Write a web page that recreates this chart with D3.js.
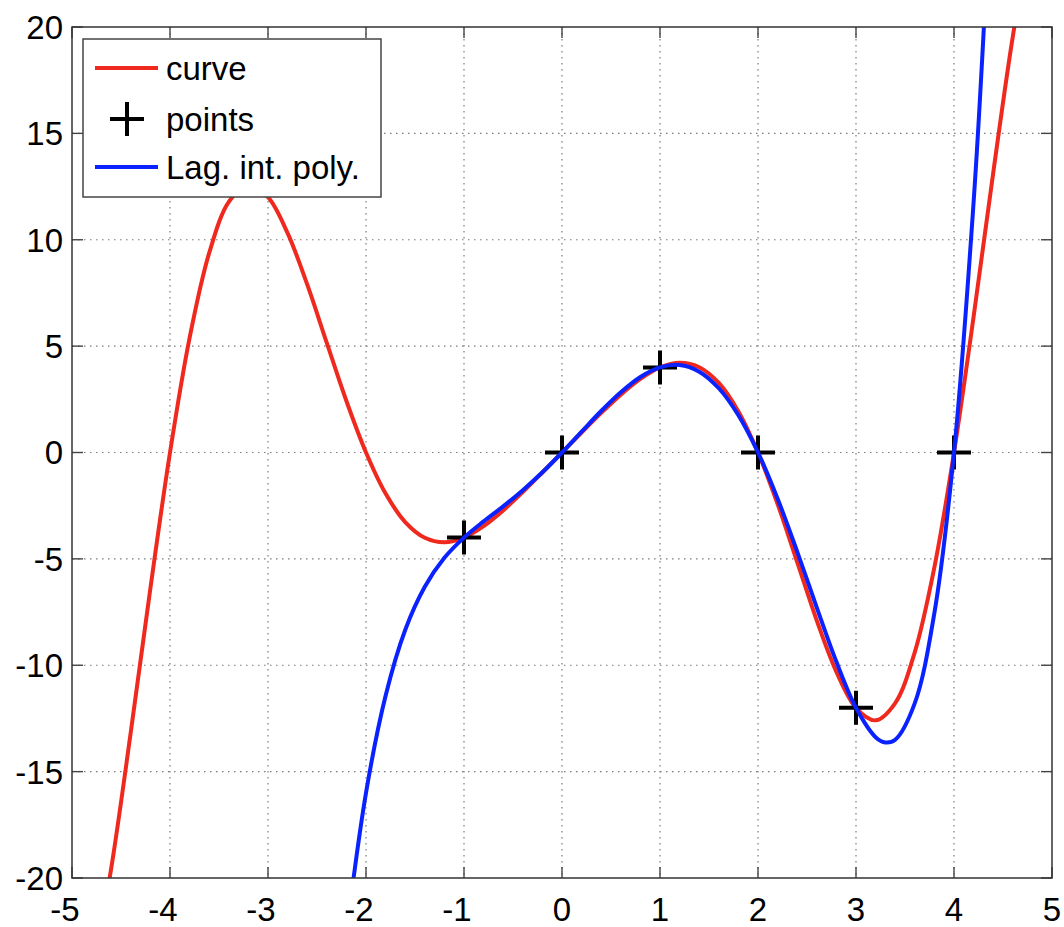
<!DOCTYPE html>
<html>
<head>
    <title>Lagrange interpolation</title>
    <script src="https://d3js.org/d3.v7.min.js"></script>
    <style>
        body { margin: 0; background: #fff; }
        text { font-family: "Liberation Sans", Arial, sans-serif; fill: #000; }
        .tick-label { font-size: 33px; }
        .legend text { font-size: 33px; }
    </style>
</head>
<body>
<svg width="1064" height="927"></svg>
<script>
    // interpolation nodes
    var pointsX = [-1, 0, 1, 2, 3, 4];
    var pointsY = [-4, 0, 4, 0, -12, 0];

    // red curve, values
    var curveX = [-4.8, -4.6, -4.4, -4.2, -4.0, -3.8, -3.6, -3.4, -3.2, -3.0, -2.8, -2.6, -2.4, -2.2, -2.0,
                  -1.8, -1.6, -1.4, -1.2, -1.0, -0.8, -0.6, -0.4, -0.2, 0.0, 0.2, 0.4, 0.6, 0.8, 1.0,
                  1.2, 1.4, 1.6, 1.8, 2.0, 2.2, 2.4, 2.6, 2.8, 3.0, 3.2, 3.4, 3.6, 3.8, 4.0,
                  4.2, 4.4, 4.6, 4.8];
    var curveY = [-24.77, -19.55, -13.14, -6.38, 0, 5.39, 9.38, 11.78, 12.59, 12.0, 10.31, 7.90, 5.15, 2.42, 0,
                  -1.93, -3.27, -4.01, -4.22, -4.0, -3.46, -2.72, -1.86, -0.94, 0, 0.94, 1.86, 2.72, 3.46, 4.0,
                  4.22, 4.01, 3.27, 1.93, 0, -2.42, -5.15, -7.90, -10.31, -12.0, -12.59, -11.78, -9.38, -5.39, 0,
                  6.38, 13.14, 19.55, 24.77];

    // blue Lagrange polynomial
    var polyX = [-2.2, -2.0, -1.8, -1.6, -1.4, -1.2, -1.0, -0.8, -0.6, -0.4, -0.2, 0.0, 0.2, 0.4, 0.6, 0.8, 1.0,
                 1.2, 1.4, 1.6, 1.8, 2.0, 2.2, 2.4, 2.6, 2.8, 3.0, 3.2, 3.3, 3.4, 3.6, 3.8, 4.0, 4.2, 4.3, 4.4];
    var polyY = [-22.61, -16.0, -11.43, -8.34, -6.31, -4.95, -4.0, -3.24, -2.53, -1.77, -0.93, 0, 0.98, 1.95, 2.83, 3.55, 4.0,
                 4.11, 3.80, 3.02, 1.75, 0, -2.17, -4.66, -7.29, -9.84, -12.0, -13.38, -13.63, -13.50, -11.78, -7.54, 0, 11.77, 19.56, 28.80];

    var xTicks = [-5, -4, -3, -2, -1, 0, 1, 2, 3, 4, 5];
    var yTicks = [-20, -15, -10, -5, 0, 5, 10, 15, 20];

    var legendItems = ["curve", "points", "Lag. int. poly."];

    var svg = d3.select("svg");
    var box = {left: 72, right: 1052, top: 27, bottom: 878};

    var x = d3.scaleLinear().domain([-5, 5]).range([box.left, box.right]);
    var y = d3.scaleLinear().domain([-20, 20]).range([box.bottom, box.top]);

    svg.append("defs").append("clipPath").attr("id", "plot-clip")
        .append("rect")
        .attr("x", box.left).attr("y", box.top)
        .attr("width", box.right - box.left).attr("height", box.bottom - box.top);

    // dotted grid
    var grid = svg.append("g").attr("stroke", "#7a7a7a").attr("stroke-width", 1.2)
        .attr("stroke-dasharray", "1.5,4.5");
    grid.selectAll(".gx").data(xTicks.slice(1, -1)).enter().append("line")
        .attr("x1", d => x(d)).attr("x2", d => x(d))
        .attr("y1", box.top).attr("y2", box.bottom);
    grid.selectAll(".gy").data(yTicks.slice(1, -1)).enter().append("line")
        .attr("x1", box.left).attr("x2", box.right)
        .attr("y1", d => y(d)).attr("y2", d => y(d));

    // inward ticks on all sides
    var tickLen = 11;
    var ticks = svg.append("g").attr("stroke", "#444").attr("stroke-width", 1.4);
    xTicks.forEach(function(d) {
        ticks.append("line").attr("x1", x(d)).attr("x2", x(d)).attr("y1", box.bottom).attr("y2", box.bottom - tickLen);
        ticks.append("line").attr("x1", x(d)).attr("x2", x(d)).attr("y1", box.top).attr("y2", box.top + tickLen);
    });
    yTicks.forEach(function(d) {
        ticks.append("line").attr("x1", box.left).attr("x2", box.left + tickLen).attr("y1", y(d)).attr("y2", y(d));
        ticks.append("line").attr("x1", box.right).attr("x2", box.right - tickLen).attr("y1", y(d)).attr("y2", y(d));
    });

    // tick labels
    svg.selectAll(".xl").data(xTicks).enter().append("text")
        .attr("class", "tick-label")
        .attr("x", d => x(d) + (d < 0 ? -7 : 0))
        .attr("y", 921)
        .attr("text-anchor", "middle")
        .text(d => d);
    svg.selectAll(".yl").data(yTicks).enter().append("text")
        .attr("class", "tick-label")
        .attr("x", 63)
        .attr("y", d => y(d))
        .attr("dy", "0.36em")
        .attr("text-anchor", "end")
        .text(d => d);

    var line = d3.line().curve(d3.curveCatmullRom.alpha(0.5));
    var plot = svg.append("g").attr("clip-path", "url(#plot-clip)");

    plot.append("path")
        .attr("d", line(curveX.map((d, i) => [x(d), y(curveY[i])])))
        .attr("fill", "none").attr("stroke", "#f0291f").attr("stroke-width", 4);

    var plus = 17;
    plot.selectAll(".pt").data(pointsX).enter().append("path")
        .attr("d", (d, i) => "M" + (x(d) - plus) + "," + y(pointsY[i]) + "h" + (2 * plus) +
            "M" + x(d) + "," + (y(pointsY[i]) - plus) + "v" + (2 * plus))
        .attr("stroke", "#000").attr("stroke-width", 4).attr("fill", "none");

    plot.append("path")
        .attr("d", line(polyX.map((d, i) => [x(d), y(polyY[i])])))
        .attr("fill", "none").attr("stroke", "#0a22ff").attr("stroke-width", 4);

    // axes box
    svg.append("rect")
        .attr("x", box.left).attr("y", box.top)
        .attr("width", box.right - box.left).attr("height", box.bottom - box.top)
        .attr("fill", "none").attr("stroke", "#333").attr("stroke-width", 1.5);

    // legend
    var lg = svg.append("g").attr("class", "legend");
    lg.append("rect").attr("x", 83).attr("y", 39).attr("width", 298).attr("height", 158)
        .attr("fill", "#fff").attr("stroke", "#444").attr("stroke-width", 1.5);
    var rowY = [68, 119, 167];
    lg.append("line").attr("x1", 95).attr("x2", 158).attr("y1", rowY[0]).attr("y2", rowY[0])
        .attr("stroke", "#f0291f").attr("stroke-width", 4);
    lg.append("path")
        .attr("d", "M" + (127 - plus) + "," + rowY[1] + "h" + (2 * plus) + "M127," + (rowY[1] - plus) + "v" + (2 * plus))
        .attr("stroke", "#000").attr("stroke-width", 4);
    lg.append("line").attr("x1", 95).attr("x2", 158).attr("y1", rowY[2]).attr("y2", rowY[2])
        .attr("stroke", "#0a22ff").attr("stroke-width", 4);
    lg.selectAll(".lt").data(legendItems).enter().append("text")
        .attr("x", 166)
        .attr("y", (d, i) => rowY[i])
        .attr("dy", "0.36em")
        .text(d => d);
</script>
</body>
</html>
